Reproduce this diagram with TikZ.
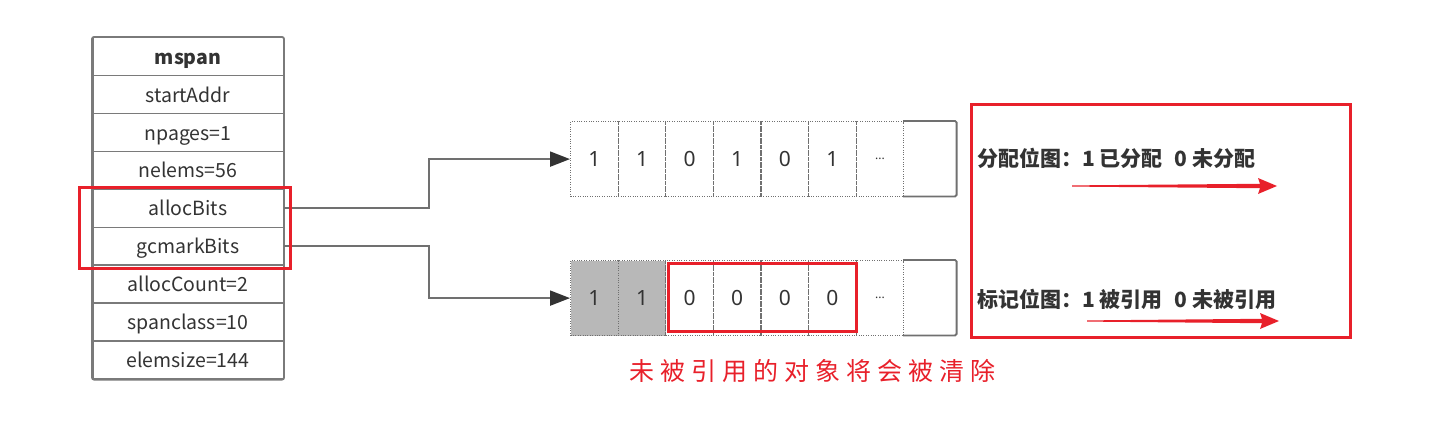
\documentclass[tikz,border=0pt]{standalone}
\usepackage{fontspec}
\setmainfont{Noto Sans}
\newfontfamily\cjk{Noto Sans CJK SC}
\newfontfamily\cjkls{Noto Sans CJK SC}[LetterSpace=24]
\usetikzlibrary{arrows.meta}
\definecolor{tgray}{HTML}{7A7A7A}
\definecolor{lgray}{HTML}{707070}
\definecolor{txt}{HTML}{333333}
\definecolor{hred}{HTML}{E8202A}
\definecolor{cellfill}{HTML}{B8B8B8}
\begin{document}
\begin{tikzpicture}[x=1pt,y=-1pt,
  field/.style={draw=tgray, line width=1.5pt, minimum width=190.5pt, minimum height=37.9pt,
    inner sep=0pt, text height=18pt, text depth=3pt,
    font=\cjk\fontsize{19.5}{19.5}\selectfont, text=txt, anchor=north west},
  cell/.style={draw=lgray, line width=1.2pt, dash pattern=on 1pt off 1.4pt, minimum width=47.6pt,
    minimum height=75pt, inner sep=0pt, anchor=north west, font=\fontsize{21}{21}\selectfont, text=txt},
  lastcell/.style={minimum width=53pt, minimum height=75pt, inner sep=0pt, anchor=north west},
  lastline/.style={draw=lgray, line width=1.8pt, rounded corners=1.5pt},
  conn/.style={draw=lgray, line width=2pt, -{Triangle[length=20pt,width=15pt,fill=txt,color=txt]}},
  redline/.style={draw=hred, line width=3pt},
  legend/.style={anchor=west, inner sep=0pt, text=txt, font=\cjk\bfseries\fontsize{21}{21}\selectfont}
]
\useasboundingbox (0,0) rectangle (1455,441);

% mspan table
\node[field, font=\cjk\bfseries\fontsize{19.5}{19.5}\selectfont] (mspan) at (92,37) {mspan};
\node[field] (start) at (92,74.9) {startAddr};
\node[field] (npages) at (92,112.8) {npages=1};
\node[field] (nelems) at (92,150.7) {nelems=56};
\node[field] (alloc) at (92,188.6) {allocBits};
\node[field] (gcmark) at (92,226.5) {gcmarkBits};
\node[field] (acount) at (92,264.4) {allocCount=2};
\node[field] (sclass) at (92,302.3) {spanclass=10};
\node[field] (esize) at (92,340.2) {elemsize=144};
\draw[tgray, line width=1.8pt, rounded corners=2pt] (mspan.north west) rectangle (esize.south east);

% allocBits array
\node[cell] (a1) at (570,121) {1};
\node[cell] (a2) at (617.6,121) {1};
\node[cell] (a3) at (665.2,121) {0};
\node[cell] (a4) at (712.8,121) {1};
\node[cell] (a5) at (760.4,121) {0};
\node[cell] (a6) at (808,121) {1};
\node[cell, font=\fontsize{12}{12}\selectfont] (a7) at (855.6,121) {...};
\node[lastcell] (a8) at (903.2,121) {};
\draw[lastline] (a8.north west) -- (a8.north east) -- (a8.south east) -- (a8.south west);

% gcmarkBits array
\node[cell, fill=cellfill] (b1) at (570,260) {1};
\node[cell, fill=cellfill] (b2) at (617.6,260) {1};
\node[cell] (b3) at (665.2,260) {0};
\node[cell] (b4) at (712.8,260) {0};
\node[cell] (b5) at (760.4,260) {0};
\node[cell] (b6) at (808,260) {0};
\node[cell, font=\fontsize{12}{12}\selectfont] (b7) at (855.6,260) {...};
\node[lastcell] (b8) at (903.2,260) {};
\draw[lastline] (b8.north west) -- (b8.north east) -- (b8.south east) -- (b8.south west);

% connectors
\draw[conn] (alloc.east) -- ++(145,0) |- (a1.west);
\draw[conn] (gcmark.east) -- ++(145,0) |- (b1.west);

% red highlight boxes
\draw[redline] (79.5,187) rectangle (290.5,268.5);
\draw[redline] (668.5,263.5) rectangle (856.5,331);
\draw[redline] (971,105) rectangle (1350.5,337.5);

% legend
\node[legend] (l1) at (977,158) {分配位图：1 已分配\hspace{12pt}0 未分配};
\node[legend] (l2) at (977,299) {标记位图：1 被引用\hspace{12pt}0 未被引用};
\fill[hred] (1072,185.4) -- (1260,183.8) -- (1258,178) -- (1277,186) -- (1258,194) -- (1260,188.2) -- (1072,186.6) -- cycle;
\fill[hred] (1087,320.4) -- (1262,318.8) -- (1260,313) -- (1279,321) -- (1260,329) -- (1262,323.2) -- (1087,321.6) -- cycle;

% caption
\node[anchor=center, inner sep=0pt, text=hred, font=\cjkls\fontsize{25}{25}\selectfont] (cap) at (812,371) {未被引用的对象将会被清除};
\end{tikzpicture}
\end{document}
